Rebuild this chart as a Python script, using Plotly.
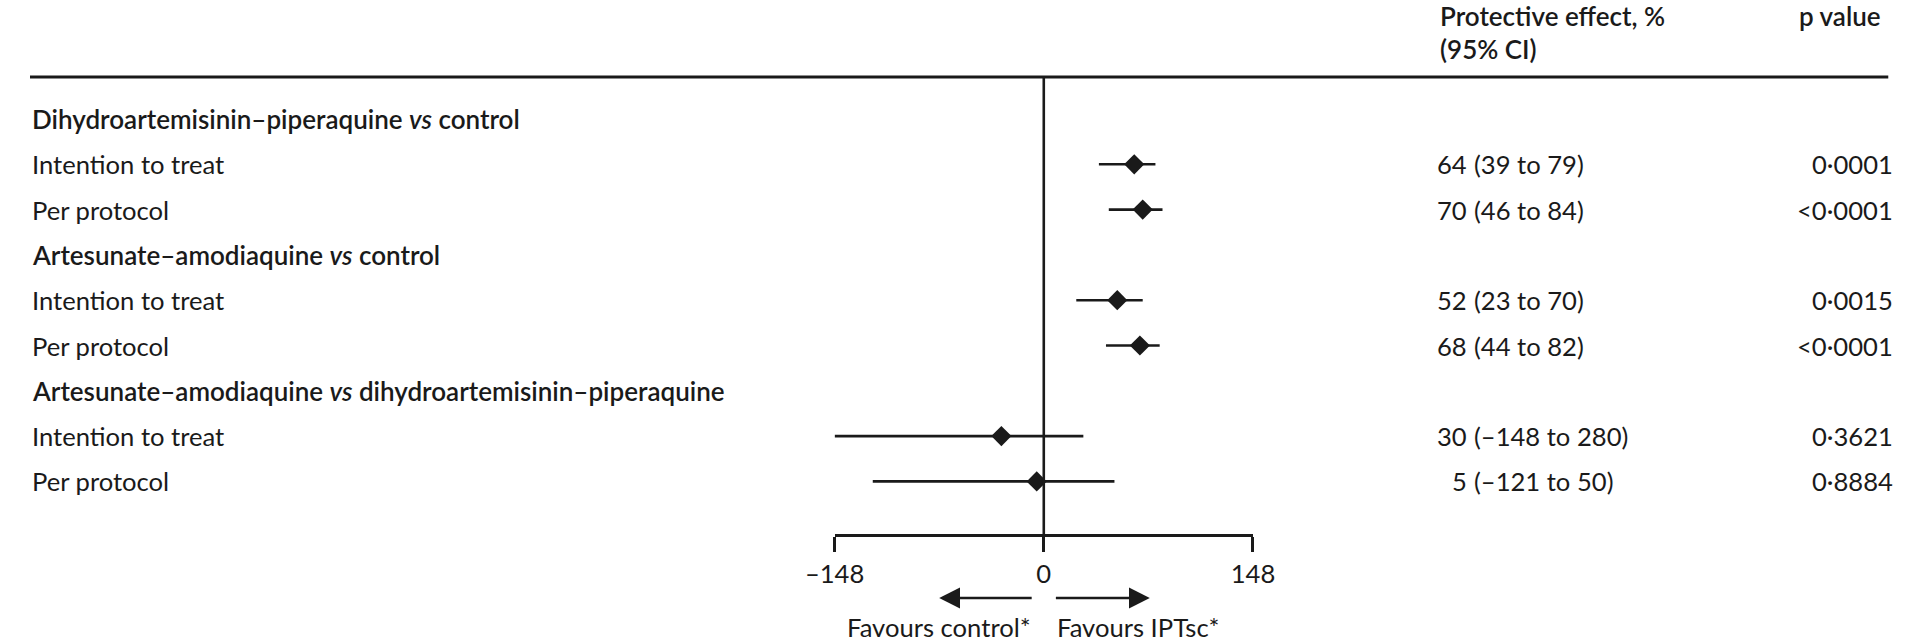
import plotly.graph_objects as go

# forest plot: protective effect of IPTsc, drawn values
group_labels = [
    "Dihydroartemisinin–piperaquine <i>vs</i> control",
    "Artesunate–amodiaquine <i>vs</i> control",
    "Artesunate–amodiaquine <i>vs</i> dihydroartemisinin–piperaquine",
]
analysis_labels = ["Intention to treat", "Per protocol"]

estimate = [64, 70, 52, 68, -30, -5]
ci_low = [39, 46, 23, 44, -148, -121]
ci_high = [79, 84, 70, 82, 28, 50]

effect_num = ["64", "70", "52", "68", "30", "5"]
effect_ci = ["(39 to 79)", "(46 to 84)", "(23 to 70)", "(44 to 82)", "(–148 to 280)", "(–121 to 50)"]
p_values = ["0·0001", "<0·0001", "0·0015", "<0·0001", "0·3621", "0·8884"]

tick_vals = [-148, 0, 148]
tick_text = ["–148", "0", "148"]

W, H = 1920, 643
FONT = "Lato, Liberation Sans, sans-serif"
FS = 25.6
INK = "#1a1a1a"
ROW0, ROW_STEP = 119, 45.3  # pixel of first row and spacing


def py(p):
    # pixel from top -> paper y
    return 1 - p / H


def px(p):
    return p / W


# row layout: group header then its two analyses
rows = []
for g, glabel in enumerate(group_labels):
    rows.append(("group", glabel, None))
    for a, alabel in enumerate(analysis_labels):
        rows.append(("item", alabel, g * 2 + a))

item_rows = [i for i, r in enumerate(rows) if r[0] == "item"]

fig = go.Figure()

# CI lines
ci_x, ci_y = [], []
for k, r in enumerate(item_rows):
    ci_x += [ci_low[k], ci_high[k], None]
    ci_y += [r, r, None]
fig.add_trace(go.Scatter(x=ci_x, y=ci_y, mode="lines", line={"color": INK, "width": 2.6},
                         hoverinfo="skip", showlegend=False))
fig.add_trace(go.Scatter(x=estimate, y=item_rows, mode="markers",
                         marker={"symbol": "diamond", "size": 15.5, "color": INK, "line": {"width": 0}},
                         cliponaxis=False, showlegend=False))

body_font = {"family": FONT, "size": FS, "color": INK}
head_font = {"family": FONT, "size": 26, "color": INK, "weight": 600}

annotations = []
for i, (kind, label, k) in enumerate(rows):
    annotations.append(dict(
        x=0, xref="paper", xanchor="left", y=i, yref="y", yanchor="middle", text=label, showarrow=False,
        font=head_font if kind == "group" else body_font,
    ))
    if kind == "item":
        annotations.append(dict(x=px(1479), xref="paper", xanchor="right", y=i, yref="y", yanchor="middle",
                                text=effect_num[k], showarrow=False, font=body_font))
        annotations.append(dict(x=px(1482), xref="paper", xanchor="left", y=i, yref="y", yanchor="middle",
                                text=effect_ci[k], showarrow=False, font=body_font))
        annotations.append(dict(x=px(1917), xref="paper", xanchor="right", y=i, yref="y", yanchor="middle",
                                text=p_values[k], showarrow=False, font=body_font))

# column headers
annotations += [
    dict(x=px(1447), xref="paper", xanchor="left", y=py(16), yref="paper", yanchor="middle",
         text="Protective effect, %", showarrow=False, font=head_font),
    dict(x=px(1447), xref="paper", xanchor="left", y=py(49), yref="paper", yanchor="middle",
         text="(95% CI)", showarrow=False, font=head_font),
    dict(x=px(1905), xref="paper", xanchor="right", y=py(16), yref="paper", yanchor="middle",
         text="p value", showarrow=False, font=head_font),
]

# favours arrows and labels
for tip, tail in [(-74, -7.5), (75, 7.5)]:
    annotations.append(dict(x=tip, xref="x", y=py(598), yref="paper", ax=tail, axref="x", ay=0,
                            text="", showarrow=True, arrowhead=2, arrowsize=1.6, arrowwidth=2.6,
                            arrowcolor=INK))
annotations += [
    dict(x=px(1031), xref="paper", xanchor="right", y=py(627), yref="paper", yanchor="middle",
         text="Favours control*", showarrow=False, font=body_font),
    dict(x=px(1054), xref="paper", xanchor="left", y=py(627), yref="paper", yanchor="middle",
         text="Favours IPTsc*", showarrow=False, font=body_font),
]

shapes = [
    # header rule
    dict(type="line", xref="paper", yref="paper", x0=0, x1=px(1910), y0=py(77), y1=py(77),
         line={"color": INK, "width": 2.8}),
    # line of no effect
    dict(type="line", xref="x", yref="paper", x0=0, x1=0, y0=py(77), y1=py(536),
         line={"color": INK, "width": 2.6}),
]

y_unit = ROW_STEP
y_top = -ROW0 / y_unit
y_bot = y_top + H / y_unit

fig.update_layout(
    width=W, height=H,
    margin={"l": 0, "r": 0, "t": 0, "b": 0},
    paper_bgcolor="white", plot_bgcolor="rgba(0,0,0,0)",
    font=body_font,
    xaxis=dict(domain=[px(827), px(1257)], range=[-148, 148], anchor="free", position=py(535),
               tickvals=tick_vals, ticktext=tick_text, ticks="outside", ticklen=15, tickwidth=2.6,
               tickcolor=INK, showline=True, linewidth=2.6, linecolor=INK,
               showgrid=False, zeroline=False, fixedrange=True, tickfont=body_font),
    yaxis=dict(domain=[0, 1], range=[y_bot, y_top], visible=False, showgrid=False, zeroline=False),
    annotations=annotations,
    shapes=shapes,
    showlegend=False,
)

fig.write_html("out.html", config={"displayModeBar": False},
               post_script="document.body.style.margin='0';")
